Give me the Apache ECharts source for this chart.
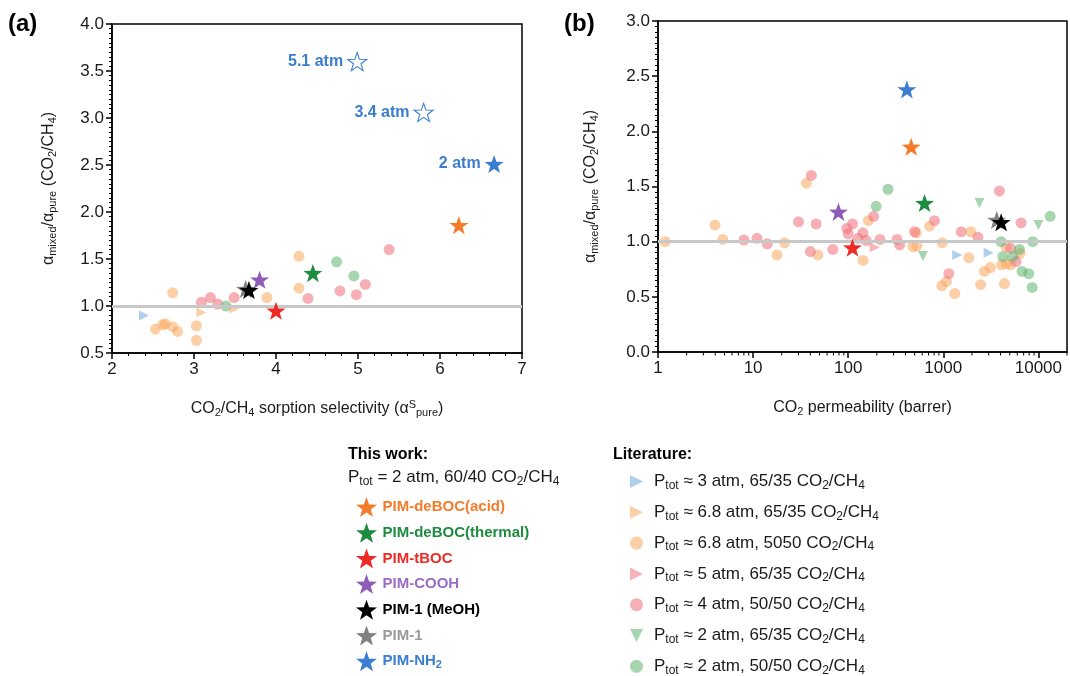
<!DOCTYPE html>
<html>
<head>
<meta charset="utf-8">
<script src="https://cdn.jsdelivr.net/npm/echarts@6/dist/echarts.min.js"></script>
<style>
  html, body { margin: 0; padding: 0; background: #fff; }
  #main { width: 1070px; height: 676px; }
</style>
</head>
<body>
<div id="main"></div>
<script>
// ---------- data ----------
// panel (a): x = CO2/CH4 sorption selectivity, y = alpha mixed / alpha pure
var a_blueTri = [[2.39, 0.90]];
var a_orangeTri = [[3.09, 0.93], [3.49, 0.97]];
var a_orangeCirc = [[2.53, 0.755], [2.62, 0.80], [2.65, 0.81], [2.74, 0.78], [2.80, 0.73], [2.74, 1.14],
  [3.03, 0.79], [3.03, 0.635], [3.89, 1.09], [4.28, 1.53], [4.28, 1.19]];
var a_pinkCirc = [[3.09, 1.04], [3.20, 1.09], [3.29, 1.02], [3.49, 1.09], [4.39, 1.08], [4.78, 1.16],
  [4.98, 1.12], [5.09, 1.23], [5.38, 1.60]];
var a_greenCirc = [[3.39, 1.00], [4.74, 1.47], [4.95, 1.32]];
var a_acid = [[6.23, 1.86]];
var a_thermal = [[4.45, 1.35]];
var a_tboc = [[4.00, 0.95]];
var a_cooh = [[3.80, 1.28]];
var a_meoh = [[3.67, 1.17]];
var a_pim1 = [[3.63, 1.18]];
var a_nh2 = [[6.66, 2.51], [5.80, 3.06], [4.99, 3.60]];
var a_nh2Labels = ['2 atm', '3.4 atm', '5.1 atm'];
var a_nh2Hollow = [false, true, true];

// panel (b): x = CO2 permeability (barrer), y = alpha mixed / alpha pure
var b_blueTri = [[1400, 0.88], [3000, 0.90]];
var b_pinkTri = [[190, 0.95]];
var b_greenTri = [[612, 0.87], [2400, 1.35], [10000, 1.15]];
var b_orangeCirc = [[1.19, 1.0], [3.97, 1.15], [4.8, 1.02], [17.8, 0.88], [21.4, 0.99], [36.4, 1.53],
  [48, 0.88], [143, 0.83], [163, 1.19], [479, 0.955], [527, 0.96], [520, 1.08], [717, 1.14], [975, 0.99],
  [966, 0.60], [1080, 0.64], [1320, 0.53], [1855, 0.855], [1950, 1.09], [2470, 0.61], [2700, 0.73],
  [3130, 0.765], [4400, 0.62], [4100, 0.79], [4600, 0.80], [5100, 0.79], [4600, 0.95], [6430, 0.895]];
var b_pinkCirc = [[8.0, 1.015], [11.0, 1.03], [14.1, 0.98], [30, 1.18], [40, 0.91], [41, 1.60], [46, 1.16],
  [69, 0.93], [97, 1.12], [100, 1.07], [111, 1.16], [127, 1.03], [143, 1.08], [155, 1.01], [185, 1.23],
  [216, 1.02], [326, 1.02], [348, 0.97], [499, 1.09], [809, 1.19], [1143, 0.71], [1545, 1.09],
  [2310, 1.04], [3890, 1.46], [5100, 0.94], [5830, 0.82], [6580, 1.17]];
var b_greenCirc = [[262, 1.475], [197, 1.32], [4060, 1.0], [4230, 0.865], [5380, 0.865], [6320, 0.93],
  [6740, 0.73], [7930, 0.71], [8730, 1.0], [8600, 0.585], [13300, 1.23]];
var b_acid = [[460, 1.86]];
var b_thermal = [[635, 1.35]];
var b_tboc = [[111, 0.946]];
var b_cooh = [[79, 1.27]];
var b_meoh = [[4060, 1.176]];
var b_pim1 = [[3650, 1.197]];
var b_nh2 = [[414, 2.38]];

var refLine = 1.0;
var logMinor = [2, 3, 4, 5, 6, 7, 8, 9];

// names
var workNames = ['PIM-deBOC(acid)', 'PIM-deBOC(thermal)', 'PIM-tBOC', 'PIM-COOH', 'PIM-1 (MeOH)', 'PIM-1', 'PIM-NH2'];
var workColors = ['#F47B2A', '#1E8C3E', '#EE2A24', '#8E5CB6', '#000000', '#808080', '#3B7DD1'];
var workTextColors = ['#F47B2A', '#1E8C3E', '#EE2A24', '#9A6CC4', '#000000', '#9A9A9A', '#3B7DD1'];
var litNames = ['Ptot ≈ 3 atm, 65/35 CO2/CH4', 'Ptot ≈ 6.8 atm, 65/35 CO2/CH4', 'Ptot ≈ 6.8 atm, 5050 CO2/CH4',
  'Ptot ≈ 5 atm, 65/35 CO2/CH4', 'Ptot ≈ 4 atm, 50/50 CO2/CH4', 'Ptot ≈ 2 atm, 65/35 CO2/CH4',
  'Ptot ≈ 2 atm, 50/50 CO2/CH4'];
var litColors = ['#6FA8DC', '#FBA85E', '#F9A75E', '#EF7480', '#EE6F78', '#5CB56E', '#5CB56E'];

var FONT = 'Liberation Sans, Arial, sans-serif';
var STAR = 'path://M50,0 L61.76,33.82 L97.55,34.55 L69.02,56.18 L79.39,90.45 L50,70 L20.61,90.45 L30.98,56.18 L2.45,34.55 L38.24,33.82 Z';
var TRI_RIGHT = 'path://M0,0 L10,5 L0,10 Z';
var TRI_DOWN = 'path://M0,0 L10,0 L5,10 Z';
var litIcons = [TRI_RIGHT, TRI_RIGHT, 'circle', TRI_RIGHT, 'circle', TRI_DOWN, 'circle'];

function sub(s) {
  return s.replace('Ptot', 'P{s|tot}').replace('CO2', 'CO{s|2}').replace('CH4', 'CH{s|4}').replace('NH2', 'NH{s|2}');
}

var chart = echarts.init(document.getElementById('main'));

function litSeries(name, data, gi) {
  var i = litNames.indexOf(name);
  return {
    name: name, type: 'scatter', xAxisIndex: gi, yAxisIndex: gi,
    symbol: litIcons[i], symbolSize: litIcons[i] == 'circle' ? 11 : 10, symbolKeepAspect: true,
    itemStyle: { color: litColors[i], opacity: 0.55 },
    data: data, z: 2
  };
}
function starSeries(name, data, gi) {
  var i = workNames.indexOf(name);
  return {
    name: name, type: 'scatter', xAxisIndex: gi, yAxisIndex: gi,
    symbol: STAR, symbolSize: 19, symbolKeepAspect: true,
    itemStyle: { color: workColors[i], opacity: 1 },
    data: data, z: 5
  };
}

var nh2Data = a_nh2.map(function (p, i) {
  var d = { value: p, label: { show: true, formatter: a_nh2Labels[i] } };
  if (a_nh2Hollow[i]) d.itemStyle = { color: 'rgba(255,255,255,0)', borderColor: '#3B7DD1', borderWidth: 1.1 };
  return d;
});

var axisCommon = {
  axisLine: { lineStyle: { color: '#000', width: 1.5 } },
  axisTick: { show: true, inside: false, length: 6, lineStyle: { color: '#000', width: 1.5 } },
  minorTick: { show: true, splitNumber: 10, length: 3, lineStyle: { color: '#000', width: 1 } },
  splitLine: { show: false },
  axisLabel: { color: '#1a1a1a', fontSize: 17, fontFamily: FONT, margin: 8 },
  nameTextStyle: { color: '#1a1a1a', fontSize: 16, fontFamily: FONT,
    rich: { s: { fontSize: 11, fontFamily: FONT, verticalAlign: 'bottom', padding: [8, 0, 0, 0] },
            sup: { fontSize: 11, fontFamily: FONT, verticalAlign: 'top', padding: [0, 0, 8, 0] } } }
};
function ax(extra) { return Object.assign({}, JSON.parse(JSON.stringify(axisCommon)), extra); }

var series = [
  litSeries(litNames[0], a_blueTri, 0),
  litSeries(litNames[1], a_orangeTri, 0),
  litSeries(litNames[2], a_orangeCirc, 0),
  litSeries(litNames[4], a_pinkCirc, 0),
  litSeries(litNames[6], a_greenCirc, 0),
  litSeries(litNames[0], b_blueTri, 1),
  litSeries(litNames[3], b_pinkTri, 1),
  litSeries(litNames[5], b_greenTri, 1),
  litSeries(litNames[2], b_orangeCirc, 1),
  litSeries(litNames[4], b_pinkCirc, 1),
  litSeries(litNames[6], b_greenCirc, 1),
  starSeries('PIM-deBOC(acid)', a_acid, 0),
  starSeries('PIM-deBOC(thermal)', a_thermal, 0),
  starSeries('PIM-tBOC', a_tboc, 0),
  starSeries('PIM-COOH', a_cooh, 0),
  starSeries('PIM-1 (MeOH)', a_meoh, 0),
  starSeries('PIM-1', a_pim1, 0),
  starSeries('PIM-NH2', nh2Data, 0),
  starSeries('PIM-deBOC(acid)', b_acid, 1),
  starSeries('PIM-deBOC(thermal)', b_thermal, 1),
  starSeries('PIM-tBOC', b_tboc, 1),
  starSeries('PIM-COOH', b_cooh, 1),
  starSeries('PIM-1 (MeOH)', b_meoh, 1),
  starSeries('PIM-1', b_pim1, 1),
  starSeries('PIM-NH2', b_nh2, 1)
];
// PIM-1 (MeOH) drawn above PIM-1
series[15].z = 6; series[22].z = 6;
// labels for NH2 stars in (a)
series[17].label = { show: true, position: 'left', distance: 4, color: '#3B7DD1', fontWeight: 'bold', fontSize: 16, fontFamily: FONT };
// grey reference lines at y = 1
[0, 5].forEach(function (k) {
  series[k].markLine = { silent: true, symbol: 'none', label: { show: false },
    lineStyle: { color: '#c8c8c8', width: 3, type: 'solid' }, data: [{ yAxis: refLine }] };
  series[k].z = 1;
});

var option = {
  animation: false,
  backgroundColor: '#fff',
  textStyle: { fontFamily: FONT },
  grid: [
    { left: 112, top: 24, width: 410, height: 329, show: true, borderColor: '#000', borderWidth: 1.5, backgroundColor: 'transparent' },
    { left: 658, top: 21, width: 409, height: 331, show: true, borderColor: '#000', borderWidth: 1.5, backgroundColor: 'transparent' }
  ],
  xAxis: [
    ax({ type: 'value', gridIndex: 0, min: 2, max: 7, interval: 1,
      minorTick: { show: true, splitNumber: 5, length: 3, lineStyle: { color: '#000', width: 1 } },
      name: 'CO{s|2}/CH{s|4} sorption selectivity (α{sup|S}{s|pure})', nameLocation: 'middle', nameGap: 46 }),
    ax({ type: 'log', logBase: 10, gridIndex: 1, min: 1, max: 20000,
      minorTick: { show: false },
      axisLabel: { color: '#1a1a1a', fontSize: 17, fontFamily: FONT, margin: 8, showMaxLabel: false,
        formatter: function (v) { return String(Math.round(v)); } },
      name: 'CO{s|2} permeability (barrer)', nameLocation: 'middle', nameGap: 46 })
  ],
  yAxis: [
    ax({ type: 'value', gridIndex: 0, min: 0.5, max: 4.0, interval: 0.5,
      axisLabel: { color: '#1a1a1a', fontSize: 17, fontFamily: FONT, margin: 8, formatter: function (v) { return v.toFixed(1); } },
      name: 'α{s|mixed}/α{s|pure} (CO{s|2}/CH{s|4})', nameLocation: 'middle', nameGap: 54 }),
    ax({ type: 'value', gridIndex: 1, min: 0, max: 3.0, interval: 0.5,
      axisLabel: { color: '#1a1a1a', fontSize: 17, fontFamily: FONT, margin: 8, formatter: function (v) { return v.toFixed(1); } },
      name: 'α{s|mixed}/α{s|pure} (CO{s|2}/CH{s|4})', nameLocation: 'middle', nameGap: 58 })
  ],
  legend: [
    {
      orient: 'vertical', left: 351, top: 492, height: 240, itemWidth: 22, itemHeight: 20, itemGap: 5.7,
      data: workNames.map(function (n, i) { return { name: n, icon: STAR, itemStyle: { color: workColors[i], opacity: 1 }, textStyle: { color: workTextColors[i] } }; }),
      formatter: sub,
      textStyle: { fontSize: 15, fontWeight: 'bold', fontFamily: FONT,
        rich: { s: { fontSize: 11, fontWeight: 'bold', fontFamily: FONT, verticalAlign: 'bottom', padding: [7, 0, 0, 0] } } },
      selectedMode: false
    },
    {
      orient: 'vertical', left: 625, top: 468, height: 260, itemWidth: 13, itemHeight: 13, itemGap: 12.3,
      data: litNames.map(function (n, i) { return { name: n, icon: litIcons[i], itemStyle: { color: litColors[i], opacity: 0.55 } }; }),
      formatter: sub,
      textStyle: { fontSize: 17, color: '#1a1a1a', fontFamily: FONT, padding: [0, 0, 0, 6],
        rich: { s: { fontSize: 12, fontFamily: FONT, color: '#1a1a1a', verticalAlign: 'bottom', padding: [8, 0, 0, 0] } } },
      selectedMode: false
    }
  ],
  graphic: [
    { type: 'text', left: 8, top: 12, style: { text: '(a)', font: 'bold 24px ' + FONT, fill: '#000' } },
    { type: 'text', left: 564, top: 12, style: { text: '(b)', font: 'bold 24px ' + FONT, fill: '#000' } },
    { type: 'text', left: 348, top: 447, style: { text: 'This work:', font: 'bold 16px ' + FONT, fill: '#000' } },
    { type: 'text', left: 348, top: 469, style: { text: 'P{s|tot} = 2 atm, 60/40 CO{s|2}/CH{s|4}', font: '17px ' + FONT, fill: '#1a1a1a',
      rich: { s: { font: '12px ' + FONT, verticalAlign: 'bottom', padding: [8, 0, 0, 0] } } } },
    { type: 'text', left: 613, top: 447, style: { text: 'Literature:', font: 'bold 16px ' + FONT, fill: '#000' } }
  ],
  series: series
};
chart.setOption(option);

// minor ticks of the log axis at 2..9 x 10^k, placed through the axis scale
var ticks = [];
var y0 = chart.convertToPixel({ yAxisIndex: 1 }, 0);
for (var k = 0; k <= 4; k++) {
  logMinor.forEach(function (m) {
    var v = m * Math.pow(10, k);
    if (v > 20000) return;
    var x = chart.convertToPixel({ xAxisIndex: 1 }, v);
    ticks.push({ type: 'line', silent: true, z: 10,
      shape: { x1: x, y1: y0, x2: x, y2: y0 + 3.5 }, style: { stroke: '#000', lineWidth: 1 } });
  });
}
chart.setOption({ graphic: option.graphic.concat(ticks) });
</script>
</body>
</html>
